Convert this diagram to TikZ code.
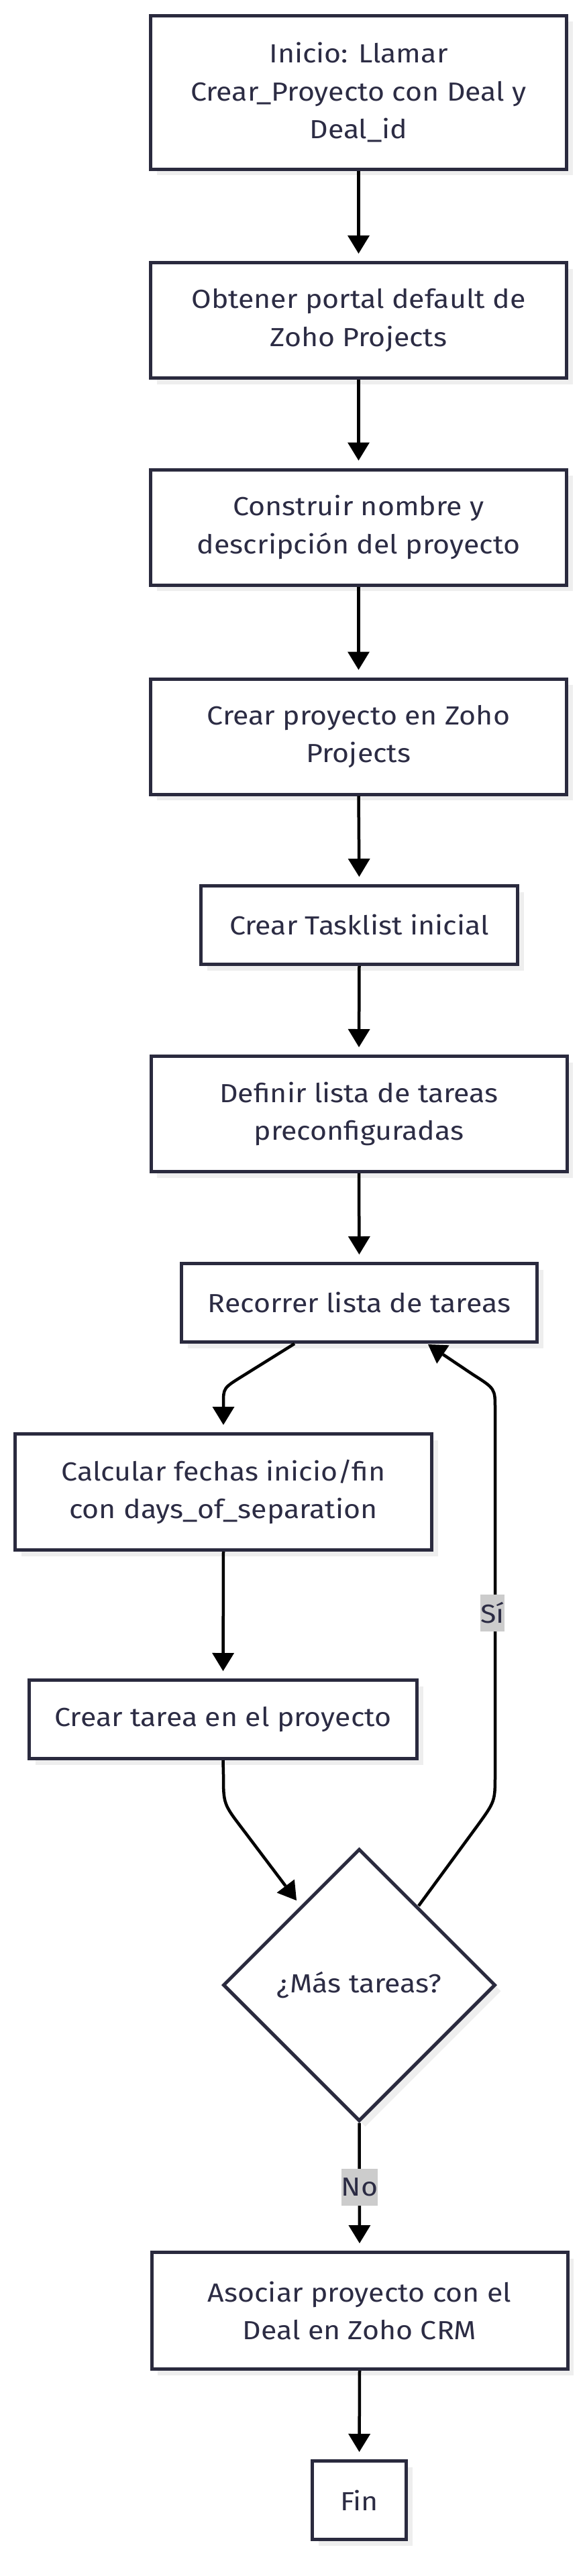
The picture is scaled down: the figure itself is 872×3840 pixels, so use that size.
\documentclass[tikz,border=0pt]{standalone}
\usepackage{fontspec}
\setmainfont{Fira Sans}[FakeStretch=1.1]
\usetikzlibrary{arrows.meta,shapes.geometric,shadows,calc}
\definecolor{bordc}{HTML}{2A2A3E}
\definecolor{txtc}{HTML}{2C2C44}
\definecolor{shadc}{HTML}{EEEEEE}
\definecolor{lblc}{HTML}{CCCCCC}
\begin{document}
\begin{tikzpicture}[x=1pt,y=-1pt,
  box/.style={draw=bordc, line width=5pt, fill=white, text=txtc, align=center,
    inner sep=0pt, font=\fontsize{39}{56.5}\selectfont,
    drop shadow={shadow xshift=9pt, shadow yshift=-9pt, fill=shadc, opacity=1}},
  dia/.style={box, diamond},
  conn/.style={line width=4.5pt, draw=black, line join=round,
    -{Triangle[length=27pt,width=33pt,line width=0pt]}, shorten >=11pt},
  lbl/.style={fill=lblc, text=txtc, inner sep=0pt, font=\fontsize{39}{47}\selectfont}
]
\useasboundingbox (0,0) rectangle (872,3840);
\fill[white] (0,0) rectangle (872,3840);

\node[box, minimum width=620pt, minimum height=229pt] (n1) at (534.5,138)
  {Inicio: Llamar\\Crear\_Proyecto con Deal y\\Deal\_id};
\node[box, minimum width=620pt, minimum height=172pt] (n2) at (534.5,477.5)
  {Obtener portal default de\\Zoho Projects};
\node[box, minimum width=620pt, minimum height=172pt] (n3) at (534.5,786)
  {Construir nombre y\\descripción del proyecto};
\node[box, minimum width=620pt, minimum height=172pt] (n4) at (534.5,1098)
  {Crear proyecto en Zoho\\Projects};
\node[box, minimum width=472pt, minimum height=117pt] (n5) at (535.5,1379)
  {Crear Tasklist inicial};
\node[box, minimum width=620pt, minimum height=172pt] (n6) at (535,1660.5)
  {Definir lista de tareas\\preconfiguradas};
\node[box, minimum width=530pt, minimum height=117pt] (n7) at (535.5,1942)
  {Recorrer lista de tareas};
\node[box, minimum width=621pt, minimum height=173pt] (n8) at (333,2224)
  {Calcular fechas inicio/fin\\con days\_of\_separation};
\node[box, minimum width=578pt, minimum height=117pt] (n9) at (332.5,2563)
  {Crear tarea en el proyecto};
\node[dia, minimum width=406pt, minimum height=406pt] (dia) at (535.5,2959)
  {¿Más tareas?};
\node[box, minimum width=620pt, minimum height=174pt] (n10) at (536,3444.5)
  {Asociar proyecto con el\\Deal en Zoho CRM};
\node[box, minimum width=140pt, minimum height=117pt] (fin) at (535.5,3727)
  {Fin};

\draw[conn] (n1.south) -- (n2.north);
\draw[conn] (n2.south) -- (n3.north);
\draw[conn] (n3.south) -- (n4.north);
\draw[conn] (n4.south) -- (n5.north);
\draw[conn] (n5.south) -- (n6.north);
\draw[conn] (n6.south) -- (n7.north);

\draw[conn, shorten >=0pt] ($(n7.south)+(-96.5,0)$) -- (362,2051)
  .. controls (333,2069) .. (333,2092) -- ($(n8.north)+(0,-11)$);
\draw[conn] (n8.south) -- (n9.north);
\draw[conn, shorten >=0pt] (n9.south) -- (333,2645)
  .. controls (333,2689) .. (362,2727) -- ($(dia.center)+(-93.5,-126)$);
\draw[conn, shorten >=0pt] ($(dia.center)+(88.5,-118)$) -- (712,2721)
  .. controls (738,2685) .. (738,2645) -- (738,2100)
  .. controls (738,2070) .. (705,2049) -- ($(n7.south)+(102.5,1)$);
\node[lbl, minimum width=34pt, minimum height=55pt] (lsi) at (734,2404.5) {Sí};

\draw[conn] (dia.south) -- (n10.north);
\node[lbl, minimum width=48pt, minimum height=55pt] (lno) at (536,3260.5) {No};
\draw[conn] (n10.south) -- (fin.north);
\end{tikzpicture}
\end{document}
